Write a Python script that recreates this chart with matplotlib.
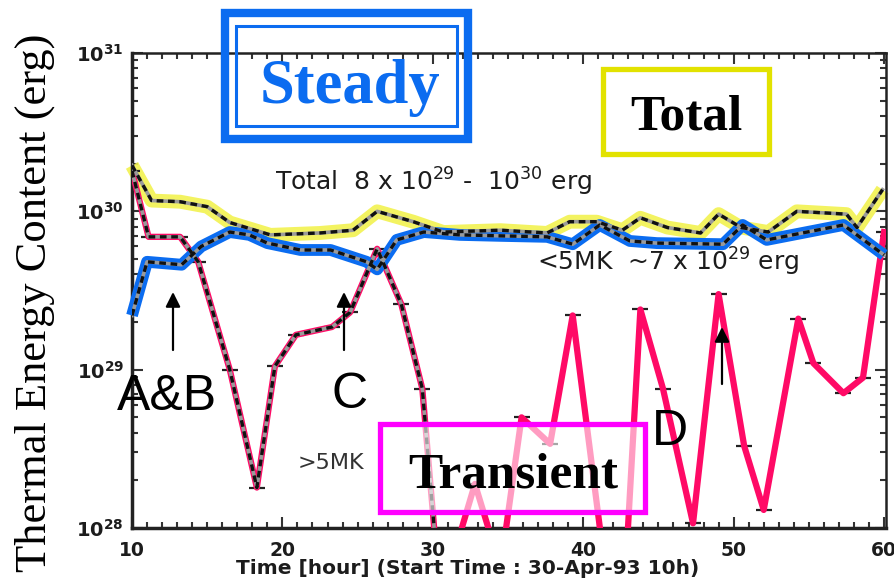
import matplotlib
matplotlib.use("Agg")
import matplotlib.pyplot as plt
from matplotlib.patches import Rectangle, FancyArrowPatch
from matplotlib.ticker import FixedLocator, MultipleLocator, LogLocator, NullFormatter

plt.rcParams['mathtext.fontset'] = 'custom'
plt.rcParams['mathtext.rm'] = 'DejaVu Sans'
plt.rcParams['mathtext.bf'] = 'DejaVu Sans:bold'

# ---- data: thermal energy content (erg) vs. time (hours) ----
total_hours = [10.0, 11.3, 13.2, 15.0, 16.5, 19.2, 22.5, 24.7, 26.3, 28.7, 30.7,
               34.5, 37.6, 39.1, 40.9, 42.6, 43.8, 45.6, 47.8, 49.0, 50.5, 52.3,
               54.2, 57.5, 58.2, 59.9]
total_erg = [1.95e30, 1.17e30, 1.15e30, 1.07e30, 8.5e29, 7.1e29, 7.3e29, 7.6e29,
             1.0e30, 8.6e29, 7.4e29, 7.6e29, 7.3e29, 8.6e29, 8.6e29, 7.6e29,
             9.1e29, 7.9e29, 7.3e29, 9.6e29, 7.9e29, 7.4e29, 1.0e30, 9.6e29,
             7.9e29, 1.37e30]

cool_hours = [10.0, 11.0, 13.3, 14.6, 16.5, 17.8, 19.0, 21.2, 23.2, 25.6, 26.3,
              27.6, 29.4, 31.8, 34.5, 37.6, 39.3, 41.1, 43.1, 44.9, 49.3, 50.6,
              52.2, 57.3, 60.0]
cool_erg = [2.2e29, 4.8e29, 4.6e29, 6.0e29, 7.4e29, 7.1e29, 6.3e29, 5.7e29,
            5.7e29, 4.8e29, 4.3e29, 6.6e29, 7.4e29, 7.1e29, 7.0e29, 6.9e29,
            6.2e29, 8.2e29, 6.5e29, 6.3e29, 6.2e29, 8.2e29, 6.6e29, 8.2e29,
            5.3e29]

hot_hours = [10.0, 11.1, 13.2, 14.4, 16.5, 18.3, 19.5, 20.9, 23.3, 24.5, 26.3,
             27.9, 29.3, 30.5, 32.8, 34.5, 35.9, 37.8, 39.3, 42.4, 43.8, 45.3,
             47.3, 49.0, 50.7, 52.0, 54.3, 55.3, 57.3, 58.6, 60.0]
hot_erg = [1.8e30, 6.9e29, 6.9e29, 4.8e29, 1.0e29, 1.8e28, 1.05e29, 1.66e29,
           1.86e29, 2.3e29, 5.8e29, 2.6e29, 7.6e28, 3.5e27, 1.9e28, 5.6e27,
           5.0e28, 3.4e28, 2.2e29, 1.1e27, 2.4e29, 7.6e28, 1.07e28, 3.0e29,
           3.3e28, 1.3e28, 2.1e29, 1.1e29, 7.1e28, 8.9e28, 7.4e29]
hot_orig_end = 30.5   # the original (dotted) >5MK curve stops here

x_ticks = [10, 20, 30, 40, 50, 60]
y_ticks = [1e28, 1e29, 1e30, 1e31]
y_tick_labels = [r'$\mathbf{10^{28}}$', r'$\mathbf{10^{29}}$',
                 r'$\mathbf{10^{30}}$', r'$\mathbf{10^{31}}$']

# ---- figure ----
W, H = 895, 580
fig = plt.figure(figsize=(W / 100, H / 100), dpi=100)


def fx(px):
    return px / W


def fy(py):
    return 1 - py / H


ax = fig.add_axes([fx(132), fy(528), (886 - 132) / W, (528 - 53) / H])
ax.set_yscale('log')
ax.set_xlim(10, 60.13)
ax.set_ylim(1e28, 1e31)

YEL = '#f2f250'
BLU = '#0b6cf0'
PNK = '#ff0a66'
INK = '#1c1c1c'

# highlighted curves
ax.plot(total_hours, total_erg, color=YEL, lw=10, alpha=0.9, zorder=2,
        clip_on=False, solid_capstyle='butt')
ax.plot(hot_hours, hot_erg, color=PNK, lw=4.5, zorder=3)
ax.plot(cool_hours, cool_erg, color=BLU, lw=8.5, zorder=4, clip_on=False,
        solid_capstyle='butt')

# original dotted curves drawn over the highlights
hot_h_orig = [h for h in hot_hours if h <= hot_orig_end]
hot_e_orig = hot_erg[:len(hot_h_orig)]
for hx, ey in [(total_hours, total_erg), (cool_hours, cool_erg),
               (hot_h_orig, hot_e_orig)]:
    ax.plot(hx, ey, color='#9a9a9a', lw=2.6, zorder=5)
    ax.plot(hx, ey, color='#111111', lw=2.4, dashes=(2.0, 1.4), zorder=6)

# short bar markers on the >5MK points
ax.plot(hot_hours, hot_erg, ls='none', marker='_', ms=11, mew=1.6,
        color='#222222', zorder=2.9)

# ---- axes styling ----
ax.xaxis.set_major_locator(FixedLocator(x_ticks))
ax.xaxis.set_minor_locator(MultipleLocator(1))
ax.yaxis.set_major_locator(FixedLocator(y_ticks))
ax.yaxis.set_minor_locator(LogLocator(base=10, subs=range(2, 10)))
ax.yaxis.set_minor_formatter(NullFormatter())
ax.set_yticklabels(y_tick_labels)
ax.set_xticklabels([str(t) for t in x_ticks])
ax.tick_params(which='both', direction='in', top=True, right=True,
               color='#333333', labelcolor=INK)
ax.tick_params(which='major', length=8, width=1.5)
ax.tick_params(which='minor', length=4, width=1.5)
ax.tick_params(axis='x', pad=9, labelsize=13.5)
ax.tick_params(axis='y', pad=6, labelsize=14)
for lab in ax.get_xticklabels():
    lab.set_fontfamily('DejaVu Sans')
    lab.set_fontweight('bold')
for side, w in [('left', 2.5), ('bottom', 2.5), ('top', 1.8), ('right', 1.8)]:
    ax.spines[side].set_linewidth(w)
    ax.spines[side].set_color('#222222')

fig.text(fx(468), fy(569), 'Time [hour] (Start Time : 30-Apr-93 10h)',
         ha='center', va='center', fontsize=14.5, fontweight='bold',
         family='DejaVu Sans', color=INK)
fig.text(fx(35), fy(303), 'Thermal Energy Content (erg)', rotation=90,
         ha='center', va='center', fontsize=32, family='Liberation Serif')

# ---- in-plot annotations ----
fig.text(fx(275), fy(182), r'Total  8 x 10$^{29}$ -  10$^{30}$ erg',
         ha='left', va='center', fontsize=18, family='DejaVu Sans', color=INK)
fig.text(fx(537), fy(262), r'<5MK  ~7 x 10$^{29}$ erg',
         ha='left', va='center', fontsize=18, family='DejaVu Sans', color=INK)
fig.text(fx(298), fy(463), '>5MK', ha='left', va='center', fontsize=16,
         family='DejaVu Sans', color='#333333')

for label, px, py in [('A&B', 167, 410), ('C', 350, 408), ('D', 670, 445)]:
    fig.text(fx(px), fy(py), label, ha='center', va='baseline', fontsize=36,
             family='Liberation Sans')

for px, y0, y1 in [(173, 350, 292), (344, 350, 292), (722, 384, 327)]:
    fig.patches.append(FancyArrowPatch(
        (fx(px), fy(y0)), (fx(px), fy(y1)), transform=fig.transFigure,
        arrowstyle='-|>', mutation_scale=22, lw=1.6, color='black',
        shrinkA=0, shrinkB=0))

# Steady box (double outline)
fig.patches.append(Rectangle((fx(225), fy(139)), (468 - 225) / W, (139 - 13) / H,
                             transform=fig.transFigure, fill=False,
                             edgecolor=BLU, lw=6))
fig.patches.append(Rectangle((fx(236), fy(126)), (457 - 236) / W, (126 - 26) / H,
                             transform=fig.transFigure, fill=False,
                             edgecolor=BLU, lw=2.2))
fig.text(fx(350), fy(103), 'Steady', ha='center', va='baseline', fontsize=45,
         fontweight='bold', family='Liberation Serif', color=BLU)

# Total box
fig.patches.append(Rectangle((fx(603), fy(154)), (769 - 603) / W, (154 - 69) / H,
                             transform=fig.transFigure, fill=False,
                             edgecolor='#e2e200', lw=3.8))
fig.text(fx(686), fy(130), 'Total', ha='center', va='baseline', fontsize=37,
         fontweight='bold', family='Liberation Serif', color='black')

# Transient box (translucent white fill over the curves)
fig.patches.append(Rectangle((fx(380), fy(512)), (645 - 380) / W, (512 - 424) / H,
                             transform=fig.transFigure, facecolor='white',
                             alpha=0.6, edgecolor='none', zorder=10))
fig.patches.append(Rectangle((fx(380), fy(512)), (645 - 380) / W, (512 - 424) / H,
                             transform=fig.transFigure, fill=False,
                             edgecolor='#ff00ff', lw=3.8, zorder=11))
fig.text(fx(513), fy(487), 'Transient', ha='center', va='baseline', fontsize=37,
         fontweight='bold', family='Liberation Serif', color='black', zorder=12)

fig.savefig('out.png', dpi=100)
